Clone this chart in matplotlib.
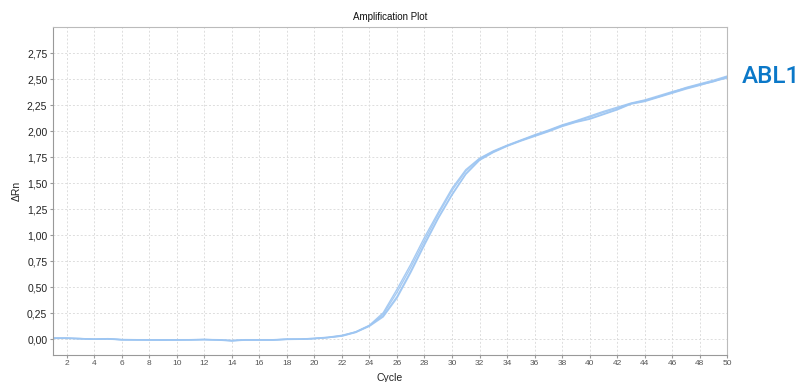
import numpy as np
import matplotlib
matplotlib.use("Agg")
import matplotlib.pyplot as plt

plt.rcParams["font.family"] = ["Liberation Sans", "DejaVu Sans"]

cycles = list(range(1, 51))

# four replicate wells, delta Rn per cycle
well_a = [0.010, 0.010, 0.008, 0.000, 0.004, -0.004, -0.004, -0.006, -0.006, -0.006,
          -0.004, -0.002, -0.006, -0.014, -0.006, -0.006, -0.006, 0.000, 0.002, 0.008,
          0.018, 0.035, 0.072, 0.135, 0.255, 0.480, 0.720, 0.980, 1.220, 1.450,
          1.630, 1.740, 1.810, 1.865, 1.915, 1.965, 2.010, 2.060, 2.100, 2.145,
          2.190, 2.230, 2.270, 2.300, 2.340, 2.380, 2.415, 2.450, 2.480, 2.525]
well_b = [0.012, 0.012, 0.006, 0.002, 0.006, -0.002, -0.004, -0.004, -0.006, -0.004,
          -0.004, -0.002, -0.004, -0.012, -0.004, -0.004, -0.004, 0.002, 0.002, 0.010,
          0.020, 0.038, 0.070, 0.130, 0.240, 0.450, 0.690, 0.950, 1.200, 1.430,
          1.615, 1.735, 1.805, 1.860, 1.910, 1.960, 2.005, 2.055, 2.095, 2.135,
          2.180, 2.220, 2.265, 2.295, 2.330, 2.370, 2.410, 2.445, 2.475, 2.520]
well_c = [0.010, 0.008, 0.004, 0.000, 0.002, -0.006, -0.006, -0.008, -0.008, -0.008,
          -0.006, -0.004, -0.008, -0.016, -0.008, -0.008, -0.008, -0.002, 0.000, 0.006,
          0.016, 0.032, 0.068, 0.130, 0.225, 0.410, 0.655, 0.920, 1.170, 1.395,
          1.590, 1.725, 1.800, 1.860, 1.910, 1.955, 2.000, 2.050, 2.090, 2.120,
          2.165, 2.210, 2.265, 2.290, 2.330, 2.375, 2.420, 2.455, 2.490, 2.530]
well_d = [0.008, 0.010, 0.006, 0.000, 0.004, -0.004, -0.006, -0.006, -0.008, -0.006,
          -0.006, -0.002, -0.006, -0.012, -0.006, -0.006, -0.006, 0.000, 0.000, 0.006,
          0.016, 0.030, 0.065, 0.125, 0.215, 0.395, 0.640, 0.905, 1.160, 1.385,
          1.585, 1.720, 1.795, 1.855, 1.905, 1.950, 1.995, 2.045, 2.085, 2.115,
          2.160, 2.205, 2.260, 2.285, 2.325, 2.365, 2.405, 2.440, 2.480, 2.510]
wells = [well_a, well_b, well_c, well_d]

yticks = [0.0, 0.25, 0.5, 0.75, 1.0, 1.25, 1.5, 1.75, 2.0, 2.25, 2.5, 2.75]
xticks = list(range(2, 51, 2))

fig = plt.figure(figsize=(8.01, 3.82), dpi=100)
ax = fig.add_axes([0.066, 0.071, 0.842, 0.858])

for w in wells:
    ax.plot(cycles, w, color="#9ec6f2", lw=1.0, alpha=0.9)

ax.set_xlim(1, 50)
ax.set_ylim(-0.15, 3.0)
ax.set_xticks(xticks)
ax.set_yticks(yticks)
ax.set_yticklabels([f"{v:.2f}".replace(".", ",") for v in yticks], fontsize=7.5, color="#222222")
ax.set_xticklabels([str(t) for t in xticks], fontsize=6, color="#555555")
ax.tick_params(axis="both", length=2, color="#999999", pad=2)

ax.grid(True, color="#dddddd", linestyle=(0, (2, 2)), lw=0.7)
ax.set_axisbelow(True)
for s in ["left", "bottom"]:
    ax.spines[s].set_color("#999999")
for s in ["top", "right"]:
    ax.spines[s].set_color("#bbbbbb")

ax.set_title("Amplification Plot", fontsize=7, color="#111111", pad=5)
ax.set_xlabel("Cycle", fontsize=7.5, color="#222222", labelpad=4)
ax.set_ylabel("ΔRn", fontsize=7.5, color="#222222", labelpad=4)

fig.text(0.926, 0.80, "ABL1", fontsize=17.5, color="#0b78c8", family="Roboto",
         fontweight="medium", va="center", ha="left")

fig.savefig("out.png", dpi=100)
